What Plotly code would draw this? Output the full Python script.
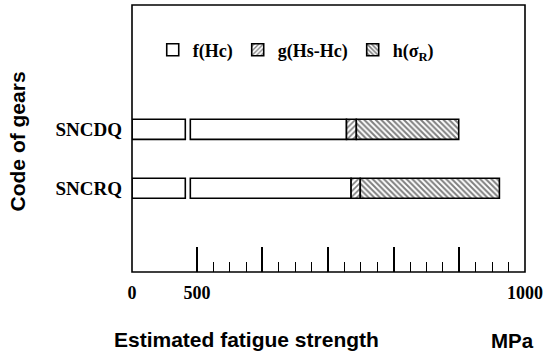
import plotly.graph_objects as go

# ---------------- data ----------------
gears = ["SNCDQ", "SNCRQ"]
f_hc = [728, 735]          # f(Hc)
g_hs_hc = [15, 14]         # g(Hs-Hc)
h_sigma = [156, 212]       # h(sigma_R)
series_names = ["f(Hc)", "g(Hs-Hc)", "h(σ<sub>R</sub>)"]
major_ticks = [500, 600, 700, 800, 900, 1000]
label_ticks = [500, 1000]
label_text = ["500", "1000"]
minor_ticks = [525, 550, 575, 625, 650, 675, 725, 750, 775,
               825, 850, 875, 925, 950, 975]
break_low = 400    # value where the first (compressed) segment stops
break_high = 490   # value where the second segment resumes

# ---------------- layout constants ----------------
W, H = 548, 353
L, R, T, B = 132, 18, 5, 81
PW, PH = W - L - R, H - T - B
split_px = 188      # pixel where the axis break sits


def px_x(px):
    return (px - L) / PW


def px_y(py):
    return (H - B - py) / PH


serif = "Liberation Serif"
sans = "Liberation Sans"
outline = dict(color="black", width=1.6)

fig = go.Figure()

# compressed first segment (0 .. break) of f(Hc)
fig.add_trace(go.Bar(
    y=gears, x=[min(v, break_low) for v in f_hc], base=[0] * len(gears),
    orientation="h", xaxis="x", yaxis="y", width=0.34,
    marker=dict(color="white", line=outline), showlegend=False,
    hoverinfo="skip"))

# main segment
fig.add_trace(go.Bar(
    y=gears, x=[v - break_high for v in f_hc], base=[break_high] * len(gears),
    orientation="h", xaxis="x2", yaxis="y", width=0.34, name=series_names[0],
    marker=dict(color="white", line=outline)))
fig.add_trace(go.Bar(
    y=gears, x=g_hs_hc, base=f_hc,
    orientation="h", xaxis="x2", yaxis="y", width=0.34, name=series_names[1],
    marker=dict(color="white", line=outline,
                pattern=dict(shape="/", fgcolor="black", bgcolor="white",
                             size=4, solidity=0.4))))
fig.add_trace(go.Bar(
    y=gears, x=h_sigma, base=[a + b for a, b in zip(f_hc, g_hs_hc)],
    orientation="h", xaxis="x2", yaxis="y", width=0.34, name=series_names[2],
    marker=dict(color="white", line=outline,
                pattern=dict(shape="\\", fgcolor="black", bgcolor="white",
                             size=4, solidity=0.5))))

# scale of the second segment: 500 at 197.7 px, 1000 at 530 px
scale2 = (530 - 197.7) / 500.0
x2_start = 500 - (197.7 - split_px) / scale2
x1_end = 415

tick_font = dict(family=serif, size=18, color="black", weight="bold")

fig.update_layout(
    width=W, height=H,
    margin=dict(l=L, r=R, t=T, b=B),
    paper_bgcolor="white", plot_bgcolor="white",
    barmode="overlay",
    showlegend=True,
    legend=dict(orientation="h", x=px_x(153), y=px_y(50), xanchor="left",
                yanchor="middle", bgcolor="rgba(0,0,0,0)",
                font=dict(family=serif, size=18, color="black", weight="bold"),
                itemclick=False, itemdoubleclick=False, tracegroupgap=0),
    xaxis=dict(domain=[0, px_x(split_px)], range=[0, x1_end], anchor="y",
               showgrid=False, zeroline=False, showline=False,
               tickmode="array", tickvals=[0], ticktext=["0"], ticks="",
               ticklabelstandoff=8, tickfont=tick_font),
    xaxis2=dict(domain=[px_x(split_px), 1], range=[x2_start, 1000], anchor="y",
                showgrid=False, zeroline=False, showline=False,
                tickmode="array", tickvals=major_ticks, showticklabels=False,
                ticks="inside", ticklen=25, tickwidth=1.5, tickcolor="black",
                minor=dict(tickmode="array", tickvals=minor_ticks, ticks="inside",
                           ticklen=10, tickwidth=1.2, tickcolor="black")),
    xaxis3=dict(domain=[px_x(split_px), 1], range=[x2_start, 1000],
                overlaying="x2", anchor="y", side="bottom",
                showgrid=False, zeroline=False, showline=False,
                tickmode="array", tickvals=label_ticks, ticktext=label_text,
                ticks="", ticklabelstandoff=8, tickfont=tick_font),
    yaxis=dict(type="category", categoryorder="array",
               categoryarray=gears[::-1], range=[-1.419, 3.107],
               showgrid=False, zeroline=False, showline=False, ticks="",
               ticklabelstandoff=9,
               tickfont=dict(family=serif, size=19, color="black", weight="bold")),
    shapes=[dict(type="rect", xref="paper", yref="paper", x0=0, x1=1, y0=0, y1=1,
                 line=dict(color="black", width=1.6), fillcolor="rgba(0,0,0,0)",
                 layer="above")],
    annotations=[
        dict(text="Code of gears", xref="paper", yref="paper",
             x=px_x(16), y=px_y(141), xanchor="center", yanchor="middle",
             textangle=-90, showarrow=False,
             font=dict(family=sans, size=21, color="black", weight="bold")),
        dict(text="Estimated fatigue strength", xref="paper", yref="paper",
             x=px_x(247.5), y=px_y(339.5), xanchor="center", yanchor="middle",
             showarrow=False,
             font=dict(family=sans, size=21, color="black", weight="bold")),
        dict(text="MPa", xref="paper", yref="paper",
             x=px_x(517), y=px_y(340), xanchor="center", yanchor="middle",
             showarrow=False, borderpad=0,
             font=dict(family=sans, size=20.5, color="black", weight="bold")),
    ],
)

# the helper label axis carries no data of its own; give it an invisible anchor trace
fig.add_trace(go.Scatter(x=[label_ticks[0]], y=[gears[0]], xaxis="x3", yaxis="y",
                         mode="markers", marker=dict(opacity=0),
                         showlegend=False, hoverinfo="skip"))

fig.write_html("out.html")
